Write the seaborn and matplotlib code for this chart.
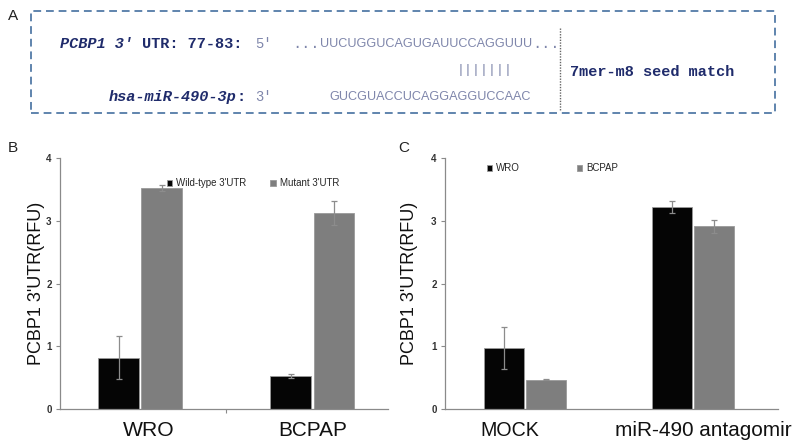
import matplotlib
matplotlib.use("Agg")
import matplotlib.pyplot as plt
import matplotlib.patches as mpatches
import matplotlib.lines as mlines
import matplotlib.transforms as mtrans
import seaborn as sns
import pandas as pd

# ---------------- data ----------------
b_groups = ["WRO", "BCPAP"]
b_series = ["Wild-type 3'UTR", "Mutant 3'UTR"]
b_wild = [0.82, 0.53]
b_wild_err = [0.34, 0.03]
b_mut = [3.52, 3.12]
b_mut_err = [0.05, 0.19]

c_groups = ["MOCK", "miR-490 antagomir"]
c_series = ["WRO", "BCPAP"]
c_wro = [0.97, 3.22]
c_wro_err = [0.33, 0.09]
c_bcpap = [0.47, 2.91]
c_bcpap_err = [0.01, 0.10]

y_ticks = [0, 1, 2, 3, 4]
y_label = "PCBP1 3'UTR(RFU)"

utr_gene = "PCBP1 3\u2032"
utr_pos = "UTR: 77-83:"
mir_name = "hsa-miR-490-3p"
utr_seq = "UUCUGGUCAGUGAUUCCAGGUUU"
mir_seq = "GUCGUACCUCAGGAGGUCCAAC"
pairing = "|||||||"
seed_text = "7mer-m8 seed match"

# ---------------- style ----------------
sns.set_theme(style="white")
plt.rcParams['font.family'] = ['Liberation Sans', 'DejaVu Sans']

W, H = 800, 446
fig = plt.figure(figsize=(8, 4.46), dpi=100)
renderer = fig.canvas.get_renderer()


def fx(x):
    return x / W


def fy(y):
    return 1 - y / H


navy = "#1f2b6b"
seqc = "#7f86ab"
boxc = "#5f84ad"
black = "#050505"
gray = "#7e7e7e"
axc = "#8a8a8a"

mono = ['Liberation Mono', 'DejaVu Sans Mono']
sans = ['Liberation Sans', 'DejaVu Sans']


def fit_text(s, x0, x1, y, **kw):
    """Place text left-aligned at x0 and scale its font so it ends at x1."""
    t = fig.text(fx(x0), fy(y), s, ha="left", va="center", fontsize=10, **kw)
    w = t.get_window_extent(renderer).width
    t.set_fontsize(10 * (x1 - x0) / w)
    return t


# ---------------- panel A ----------------
fig.text(fx(8), fy(16), "A", fontsize=11, ha="left", va="center", color="#222222")
box = mpatches.Rectangle((fx(31), fy(113)), fx(775 - 31), (113 - 11) / H,
                         transform=fig.transFigure, fill=False,
                         edgecolor=boxc, linestyle=(0, (4, 2.5)), linewidth=1.4)
fig.add_artist(box)

y1, y2, y3 = 44, 70, 97
fig.text(fx(60), fy(y1), utr_gene, family=mono, fontsize=11, weight="bold",
         style="italic", color=navy, ha="left", va="center")
fig.text(fx(142), fy(y1), utr_pos, family=mono, fontsize=11, weight="bold",
         color=navy, ha="left", va="center")
fig.text(fx(255), fy(y1), "5'", family=mono, fontsize=10, color=seqc, ha="left", va="center")
fig.text(fx(292), fy(y1), "...", family=mono, fontsize=11, color=seqc, ha="left", va="center")
fit_text(utr_seq, 320, 532, y1, family=sans, color=seqc)
fig.text(fx(532), fy(y1), "...", family=mono, fontsize=11, color=seqc, ha="left", va="center")
fit_text(pairing, 457, 513, y2, family=mono, color=seqc)

fig.text(fx(236), fy(y3), mir_name, family=mono, fontsize=11, weight="bold",
         style="italic", color=navy, ha="right", va="center")
fig.text(fx(236), fy(y3), ":", family=mono, fontsize=11, weight="bold",
         color=navy, ha="left", va="center")
fig.text(fx(255), fy(y3), "3'", family=mono, fontsize=10, color=seqc, ha="left", va="center")
fit_text(mir_seq, 329, 530, y3, family=sans, color=seqc)

fig.add_artist(mlines.Line2D([fx(560), fx(560)], [fy(28), fy(110)], transform=fig.transFigure,
                             color="#666666", linestyle=(0, (1, 1)), linewidth=1))
fig.text(fx(570), fy(72), seed_text, family=mono, fontsize=11, weight="bold",
         color=navy, ha="left", va="center")


# ---------------- bar panels ----------------
def bar_panel(rect, groups, series, v1, e1, v2, e2, xlim, legend_anchor, colspace,
              ylab_x, mid_tick):
    ax = fig.add_axes(rect)
    df = pd.DataFrame({
        "group": groups * 2,
        "series": [series[0]] * len(groups) + [series[1]] * len(groups),
        "value": list(v1) + list(v2),
    })
    errs = {(g, series[0]): e for g, e in zip(groups, e1)}
    errs.update({(g, series[1]): e for g, e in zip(groups, e2)})
    sns.barplot(data=df, x="group", y="value", hue="series", order=groups,
                hue_order=series, palette=[black, gray], errorbar=None,
                width=0.5, gap=0.06, edgecolor="#9a9a9a", linewidth=0.6, ax=ax)
    patches = sorted([p for p in ax.patches if p.get_height() > 0], key=lambda p: p.get_x())
    keys = [(g, s) for g in groups for s in series]
    for p, k in zip(patches, keys):
        xc = p.get_x() + p.get_width() / 2
        ax.errorbar(xc, p.get_height(), yerr=errs[k], fmt="none", ecolor="#8c8c8c",
                    elinewidth=0.9, capsize=2, capthick=0.9)
    ax.set_xlim(*xlim)
    ax.set_ylim(0, 4)
    ax.set_yticks(y_ticks)
    ax.set_yticklabels([str(t) for t in y_ticks], fontsize=7, weight="bold", color="#333333")
    ax.set_xlabel("")
    ax.set_ylabel(y_label, fontsize=13, color="#111111")
    ax.yaxis.set_label_coords(ylab_x, 0.5)
    ax.tick_params(axis="x", length=0, pad=9, labelsize=15, labelcolor="#111111")
    ax.tick_params(axis="y", length=3, width=0.8, color=axc, pad=3, direction="out", left=True)
    if mid_tick:
        ax.set_xticks([0.5], minor=True)
        ax.tick_params(axis="x", which="minor", length=3, width=0.8, color=axc, bottom=True,
                       direction="out")
    for s in ["top", "right"]:
        ax.spines[s].set_visible(False)
    for s in ["left", "bottom"]:
        ax.spines[s].set_color(axc)
        ax.spines[s].set_linewidth(0.9)
    ax.legend(loc="center left", bbox_to_anchor=legend_anchor, ncol=2, frameon=False,
              fontsize=7, handlelength=0.6, handleheight=0.6, handletextpad=0.4,
              columnspacing=colspace, borderaxespad=0, borderpad=0)
    return ax


def place_xlabels(ax, spans):
    """Scale/shift category labels so each spans the given pixel range."""
    fig.canvas.draw()
    for lab, (x0, x1) in zip(ax.get_xticklabels(), spans):
        bb = lab.get_window_extent(renderer)
        size = lab.get_fontsize() * (x1 - x0) / bb.width
        lab.set_fontsize(size)
        dx = (x0 + x1) / 2 - (bb.x0 + bb.x1) / 2
        lab.set_transform(lab.get_transform() +
                          mtrans.ScaledTranslation(dx / 100, 0, fig.dpi_scale_trans))


def rect_px(x0, x1, ytop, ybot):
    return [x0 / W, (H - ybot) / H, (x1 - x0) / W, (ybot - ytop) / H]


fig.text(fx(8), fy(148), "B", fontsize=11, ha="left", va="center", color="#222222")
fig.text(fx(398), fy(148), "C", fontsize=11, ha="left", va="center", color="#222222")

axb = bar_panel(rect_px(60, 388, 158, 409), b_groups, b_series, b_wild, b_wild_err,
                b_mut, b_mut_err, xlim=(-0.465, 1.44), legend_anchor=(0.325, 0.90),
                colspace=2.4, ylab_x=-0.045, mid_tick=True)

axc_ = bar_panel(rect_px(445, 778, 158, 409), c_groups, c_series, c_wro, c_wro_err,
                 c_bcpap, c_bcpap_err, xlim=(-0.476, 1.506), legend_anchor=(0.125, 0.96),
                 colspace=5.8, ylab_x=-0.082, mid_tick=False)

place_xlabels(axb, [(123, 175), (278, 347)])
place_xlabels(axc_, [(480, 539), (615, 792)])

fig.savefig("out.png", dpi=100)
